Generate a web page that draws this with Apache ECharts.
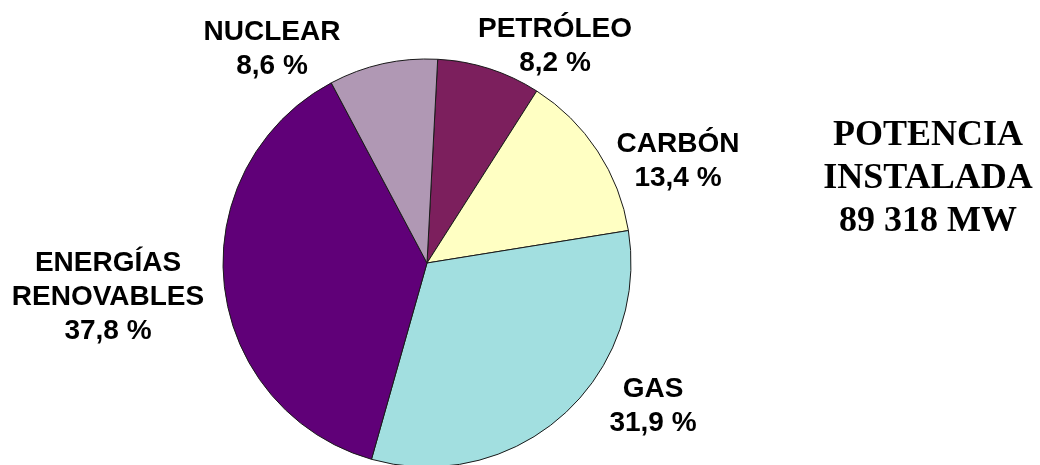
<!DOCTYPE html>
<html>
<head>
<meta charset="utf-8">
<script src="https://cdn.jsdelivr.net/npm/echarts@6/dist/echarts.min.js"></script>
<style>
  html, body { margin: 0; padding: 0; background: #ffffff; }
  #chart { width: 1040px; height: 465px; }
</style>
</head>
<body>
<div id="chart"></div>
<script>
// Installed capacity by source (%), clockwise from the top
const categories = ['PETRÓLEO', 'CARBÓN', 'GAS', 'ENERGÍAS RENOVABLES', 'NUCLEAR'];
const shares = [8.2, 13.4, 31.9, 37.8, 8.6];
const sliceColors = ['#7C1F5D', '#FFFFC3', '#A2DFE0', '#600078', '#B098B4'];
const totalLines = ['POTENCIA', 'INSTALADA', '89 318 MW'];

// Where each label block is centred
const labelCenters = {
  'PETRÓLEO': [555, 46],
  'CARBÓN': [678, 161],
  'GAS': [653, 406],
  'ENERGÍAS RENOVABLES': [108, 297],
  'NUCLEAR': [272, 49]
};

const chart = echarts.init(document.getElementById('chart'), null, { renderer: 'canvas' });

const fmt = v => v.toFixed(1).replace('.', ',');

chart.setOption({
  animation: false,
  backgroundColor: '#ffffff',
  title: {
    text: totalLines.join('\n'),
    left: 928,
    top: 114,
    textAlign: 'center',
    padding: 0,
    textStyle: {
      fontFamily: '"Liberation Serif", "Times New Roman", serif',
      fontWeight: 'bold',
      fontSize: 36,
      lineHeight: 43,
      color: '#000000',
      align: 'center'
    }
  },
  series: [{
    type: 'pie',
    center: [427, 263],
    radius: 204,
    startAngle: 87,
    clockwise: true,
    avoidLabelOverlap: false,
    itemStyle: { borderColor: '#1a1a1a', borderWidth: 1 },
    emphasis: { disabled: true },
    label: {
      show: true,
      position: 'outside',
      fontFamily: '"Liberation Sans", Arial, sans-serif',
      fontWeight: 'bold',
      fontSize: 28,
      lineHeight: 34,
      color: '#000000',
      align: 'center',
      formatter: p => p.name.replace(' ', '\n') + '\n' + fmt(p.value) + ' %'
    },
    labelLine: { show: false },
    labelLayout: params => {
      const c = labelCenters[categories[params.dataIndex]];
      return { x: c[0], y: c[1], align: 'center', verticalAlign: 'middle' };
    },
    data: categories.map((name, i) => ({
      name: name,
      value: shares[i],
      itemStyle: { color: sliceColors[i] }
    }))
  }]
});
</script>
</body>
</html>
